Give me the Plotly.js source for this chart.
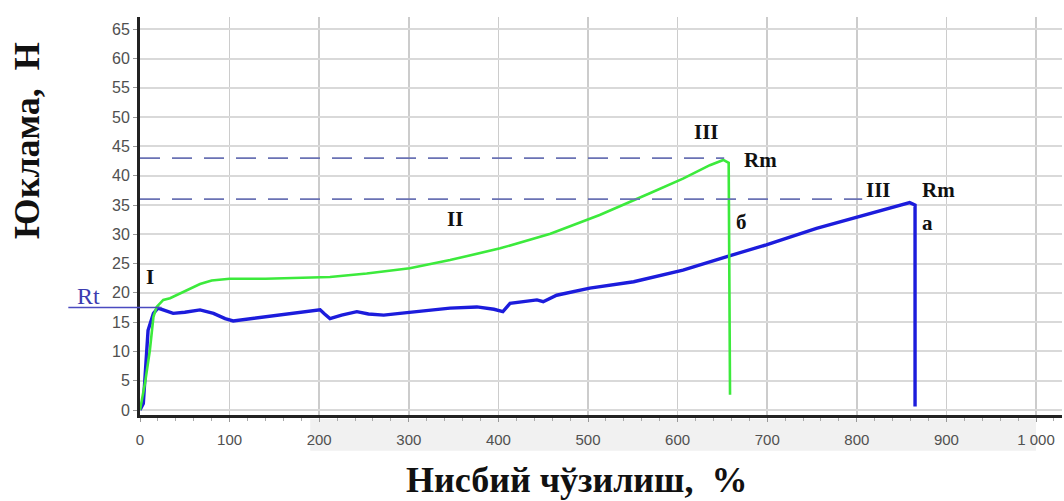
<!DOCTYPE html>
<html>
<head>
<meta charset="utf-8">
<script src="https://cdn.plot.ly/plotly-3.0.1.min.js"></script>
<style>html,body{margin:0;padding:0;background:#fff;}#chart{width:1064px;height:501px;}</style>
</head>
<body>
<div id="chart"></div>
<script>
// Curve "a" (blue)
const blueX = [0, 3.7, 9, 15, 20, 28, 37, 50, 67, 82, 95, 104, 120, 138, 160, 175, 201, 206, 212, 225, 242, 255, 272, 290, 309, 330, 346, 376, 395, 405, 413, 443, 450, 465, 502, 551, 606, 655, 699, 755, 811, 859, 865, 865];
const blueY = [0, 1.1, 13.6, 16.5, 17.4, 17.0, 16.5, 16.7, 17.1, 16.5, 15.6, 15.2, 15.5, 15.9, 16.3, 16.5, 17.1, 16.4, 15.6, 16.2, 16.8, 16.4, 16.2, 16.5, 16.8, 17.1, 17.4, 17.6, 17.2, 16.8, 18.2, 18.8, 18.5, 19.6, 20.8, 21.9, 23.9, 26.2, 28.2, 31.0, 33.3, 35.4, 35.0, 0.6];
// Curve "б" (green)
const greenX = [0, 5.6, 11, 15, 18.6, 26, 33.5, 52, 67, 80, 100, 140, 175, 212, 253, 301, 346, 402, 458, 513, 569, 606, 636, 651, 657, 658.5];
const greenY = [0, 4.6, 10.2, 15.9, 17.6, 18.8, 19.1, 20.4, 21.5, 22.1, 22.4, 22.4, 22.5, 22.7, 23.3, 24.2, 25.6, 27.6, 30.1, 33.3, 37.0, 39.5, 41.8, 42.7, 42.2, 2.6];
// Reference levels
const rmB = 43.0, rmA = 36.0, rt = 17.5;
const rmBEnd = 652, rmAEnd = 806, rtStart = -80, rtEnd = 24;
// Axes
const xTickVals = [0, 100, 200, 300, 400, 500, 600, 700, 800, 900, 1000];
const xTickText = ['0', '100', '200', '300', '400', '500', '600', '700', '800', '900', '1 000'];
const xRange = [0, 1029];
const yRange = [-0.85, 67.1];

const toPaperX = v => (v - xRange[0]) / (xRange[1] - xRange[0]);
const toPaperY = v => (v - yRange[0]) / (yRange[1] - yRange[0]);

const serif = 'Liberation Serif, Times New Roman, serif';
const lab = (t, x, y, extra) => Object.assign({text: '<b>' + t + '</b>', x: x, y: y, xref: 'x', yref: 'y', showarrow: false,
  font: {family: serif, size: 21, color: '#111'}}, extra || {});

const traces = [
  {x: blueX, y: blueY, mode: 'lines', line: {color: '#1c1cdc', width: 3.4}, hoverinfo: 'skip'},
  {x: greenX, y: greenY, mode: 'lines', line: {color: '#3cea3c', width: 2.6}, hoverinfo: 'skip'}
];

const layout = {
  width: 1064, height: 501,
  margin: {l: 140, r: 2, t: 17, b: 86},
  paper_bgcolor: '#fff', plot_bgcolor: '#fff',
  showlegend: false,
  xaxis: {
    range: xRange, tickvals: xTickVals, ticktext: xTickText,
    showgrid: true, gridcolor: '#cccccc', gridwidth: 1.5,
    zeroline: false, showline: true, linecolor: '#222', linewidth: 3,
    ticks: 'outside', ticklen: 4, tickcolor: '#999', ticklabelstandoff: 5,
    minor: {dtick: 20, ticks: 'outside', ticklen: 3, tickcolor: '#aaa', showgrid: false},
    tickfont: {family: 'Liberation Sans, Arial, sans-serif', size: 15, color: '#505050'},
    title: {text: ''}
  },
  yaxis: {
    range: yRange, dtick: 5, tick0: 0,
    showgrid: true, gridcolor: '#d9d9d9', gridwidth: 2,
    zeroline: false, showline: true, linecolor: '#222', linewidth: 3,
    ticks: 'outside', ticklen: 4, tickcolor: '#999',
    tickfont: {family: 'Liberation Sans, Arial, sans-serif', size: 16, color: '#505050'},
    title: {text: ''}
  },
  shapes: [
    {type: 'rect', xref: 'paper', yref: 'paper', x0: toPaperX(190), x1: toPaperX(1000), y0: -0.09, y1: -0.01,
     fillcolor: '#f1f1f1', line: {width: 0}, layer: 'below'},
    {type: 'line', xref: 'x', yref: 'y', x0: 0, x1: rmBEnd, y0: rmB, y1: rmB,
     line: {color: '#6a72b4', width: 1.6, dash: '20px,12px'}},
    {type: 'line', xref: 'x', yref: 'y', x0: 0, x1: rmAEnd, y0: rmA, y1: rmA,
     line: {color: '#6a72b4', width: 1.6, dash: '20px,12px'}},
    {type: 'line', xref: 'paper', yref: 'y', x0: toPaperX(rtStart), x1: toPaperX(rtEnd), y0: rt, y1: rt,
     line: {color: '#4a4ac0', width: 1.6}}
  ],
  annotations: [
    lab('I', 11.2, 22.75),
    lab('II', 351, 32.6),
    lab('III', 632, 47.5),
    lab('Rm', 672, 42.7, {xanchor: 'left'}),
    lab('III', 824, 37.5),
    lab('Rm', 891, 37.5),
    lab('б', 671, 32.1),
    lab('а', 879, 31.9),
    {text: 'Rt', xref: 'paper', yref: 'paper', x: toPaperX(-58), y: toPaperY(19.5), showarrow: false,
     xanchor: 'center', yanchor: 'middle', font: {family: serif, size: 24, color: '#3c3cb0'}},
    {text: '<b>Юклама,  Н</b>', xref: 'paper', yref: 'paper', x: -0.122, y: 0.69, xanchor: 'center', yanchor: 'middle',
     textangle: -90, showarrow: false, font: {family: serif, size: 36, color: '#111'}},
    {text: '<b>Нисбий чўзилиш,  %</b>', xref: 'paper', yref: 'paper', x: toPaperX(488), y: -0.163, xanchor: 'center', yanchor: 'middle',
     showarrow: false, font: {family: serif, size: 36, color: '#111'}}
  ]
};

Plotly.newPlot('chart', traces, layout, {staticPlot: true, displayModeBar: false});
</script>
</body>
</html>
